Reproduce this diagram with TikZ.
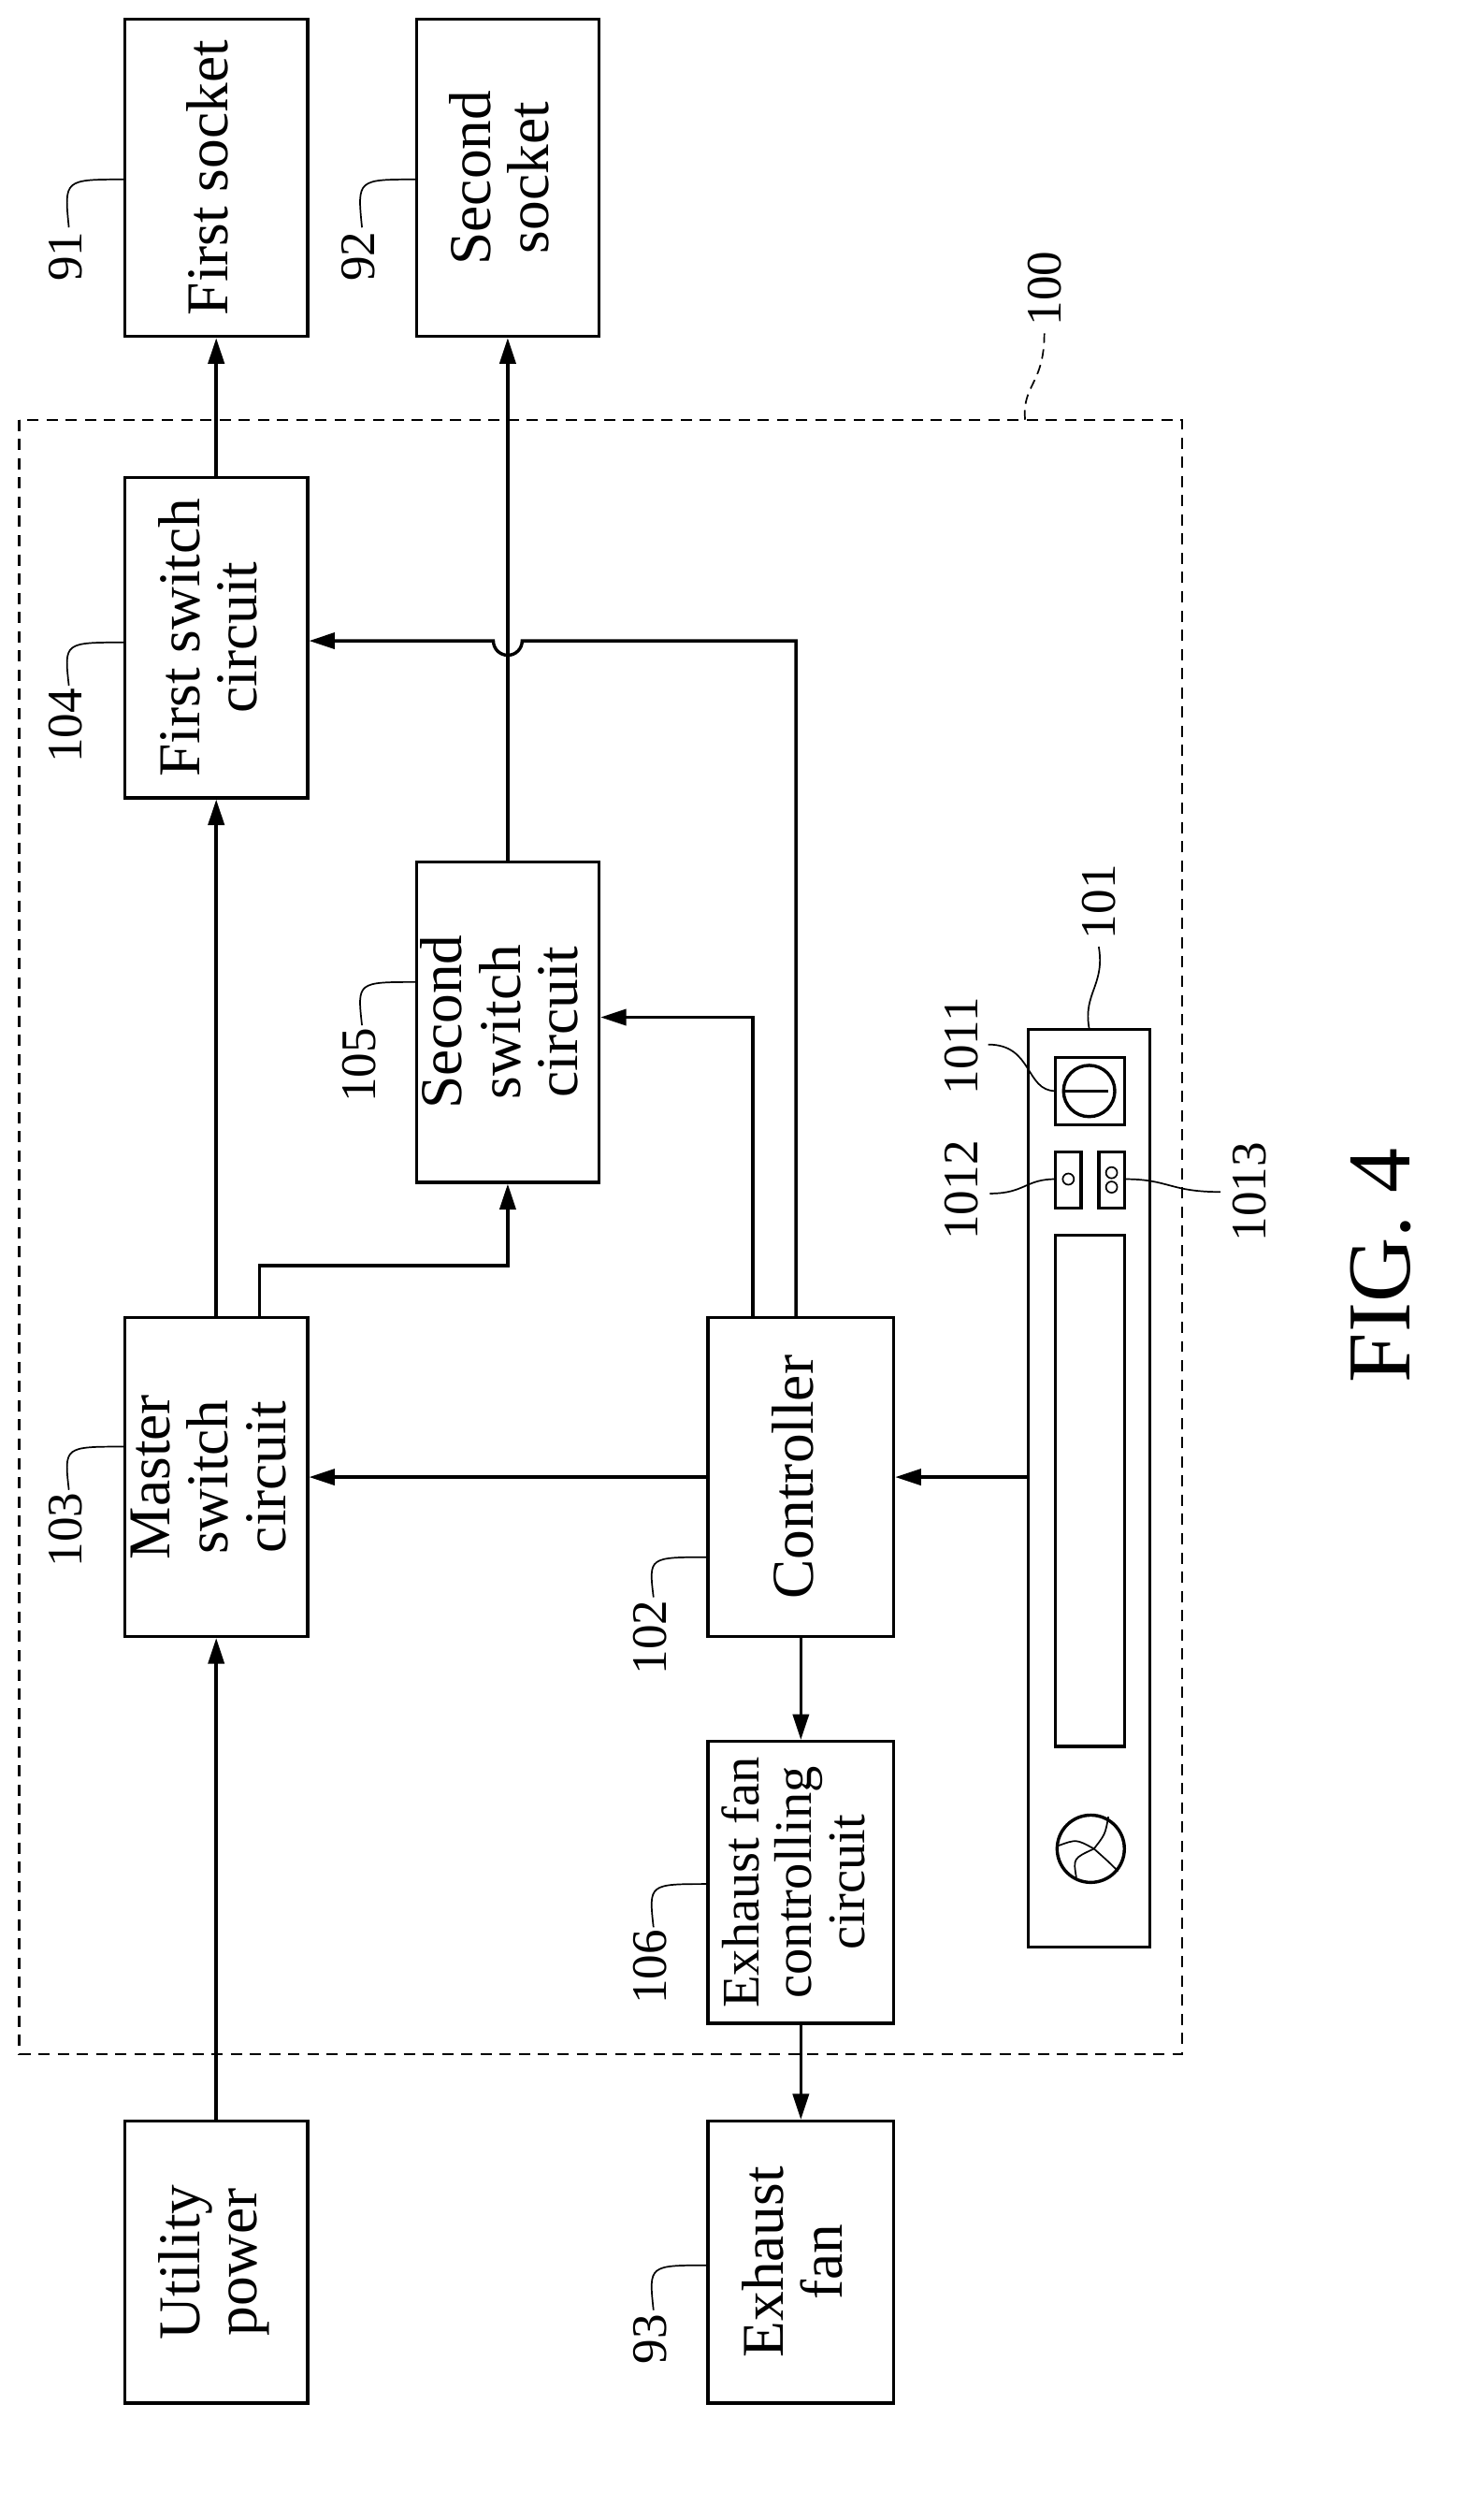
\documentclass[tikz,border=0pt]{standalone}
\usepackage{fontspec}
\setmainfont{Liberation Serif}
\usetikzlibrary{arrows.meta}
\tikzset{
  box/.style={draw, line width=2pt, inner sep=0pt, font=\fontsize{37}{36}\selectfont},
  link/.style={line width=2pt, -{Triangle[length=16pt,width=10pt]}},
  line/.style={line width=2pt},
  lead/.style={line width=1pt},
  num/.style={font=\fontsize{31}{31}\selectfont, rotate=90}
}
\newcommand{\rt}[1]{\rotatebox{90}{\begin{tabular}{@{}c@{}}#1\end{tabular}}}
\begin{document}
\begin{tikzpicture}[x=1pt, y=-1pt]
    \useasboundingbox (0,0) rectangle (910,1573);

    % Boxes
    \node[box, minimum width=114pt, minimum height=198pt] (s1) at (135,111) {\rt{First socket}};
    \node[box, minimum width=114pt, minimum height=198pt] (s2) at (317,111) {\rt{Second\\socket}};
    \node[box, minimum width=114pt, minimum height=200pt] (sw1) at (135,398) {\rt{First switch\\circuit}};
    \node[box, minimum width=114pt, minimum height=200pt] (sw2) at (317,638) {\rt{Second\\switch\\circuit}};
    \node[box, minimum width=114pt, minimum height=199pt] (msw) at (135,922) {\rt{Master\\switch\\circuit}};
    \node[box, minimum width=116pt, minimum height=199pt] (ctl) at (500,922) {\rt{Controller}};
    \node[box, minimum width=116pt, minimum height=176pt, font=\fontsize{33}{33}\selectfont] (efc) at (500,1175) {\rt{Exhaust fan\\controlling\\circuit}};
    \node[box, minimum width=114pt, minimum height=176pt] (up) at (135,1412) {\rt{Utility\\power}};
    \node[box, minimum width=116pt, minimum height=176pt] (fan) at (500,1412) {\rt{Exhaust\\fan}};

    % Panel 101
    \node[box, minimum width=76pt, minimum height=573pt] (pnl) at (680,929) {};
    \draw[line] (659,660) rectangle (702,702);
    \draw[line] (680,681) circle (16);
    \draw[lead, line width=1.5pt] (665,681) -- (692,681);
    \draw[line] (659,719) rectangle (675,754);
    \draw[lead] (667,736) circle (3.5);
    \draw[line] (686,719) rectangle (702,754);
    \draw[lead] (694,732) circle (3.5) (694,741) circle (3.5);
    \draw[line] (659,771) rectangle (702,1090);
    \draw[line] (681,1154) circle (21);
    \draw[lead] (661,1152) .. controls (672,1148) .. (683,1154) .. controls (692,1162) .. (698,1168);
    \draw[lead] (683,1154) .. controls (690,1145) .. (692,1134);
    \draw[lead] (672,1172) .. controls (670,1160) .. (683,1154);

    % Dashed frame
    \draw[lead, line width=1.3pt, dash pattern=on 7pt off 5pt] (12,262) rectangle (738,1282);

    % Connectors
    \draw[link] (up) -- (msw);
    \draw[link] (msw) -- (sw1);
    \draw[link] (sw1) -- (s1);
    \draw[link] (162,823) -- (162,790) -| (sw2.south);
    \draw[link] (sw2.north) -- (s2.south);
    \draw[link] (497,823) -- (497,400) -- (326,400) arc (0:180:9) -- (sw1.east |- 0,400);
    \draw[link] (470,823) |- (sw2.east |- 0,635);
    \draw[link] (ctl.west) -- (msw.east);
    \draw[link] (pnl.west |- ctl.east) -- (ctl.east);
    \draw[link] (ctl.south) -- (efc.north);
    \draw[link] (efc.south) -- (fan.north);

    % Reference numbers
    \node[num] (n91) at (41,160) {91};
    \draw[lead] (43,142) .. controls (40,112) .. (78,112);
    \node[num] (n92) at (224,160) {92};
    \draw[lead] (226,142) .. controls (223,112) .. (260,112);
    \node[num] (n104) at (41,453) {104};
    \draw[lead] (43,428) .. controls (40,401) .. (78,401);
    \node[num] (n105) at (224,665) {105};
    \draw[lead] (226,640) .. controls (223,613) .. (260,613);
    \node[num] (n103) at (41,955) {103};
    \draw[lead] (43,930) .. controls (40,903) .. (78,903);
    \node[num] (n102) at (406,1022) {102};
    \draw[lead] (408,997) .. controls (405,972) .. (442,972);
    \node[num] (n106) at (406,1228) {106};
    \draw[lead] (408,1203) .. controls (405,1176) .. (442,1176);
    \node[num] (n93) at (406,1460) {93};
    \draw[lead] (408,1442) .. controls (405,1414) .. (442,1414);
    \node[num] (n100) at (652,180) {100};
    \draw[lead, dash pattern=on 6pt off 4pt] (640,262) .. controls (638,240) and (652,240) .. (652,208);
    \node[num] (n101) at (686,563) {101};
    \draw[lead] (680,642) .. controls (676,620) and (690,615) .. (686,591);
    \node[num] (n1011) at (600,653) {1011};
    \draw[lead] (659,681) .. controls (640,681) and (645,652) .. (617,652);
    \node[num] (n1012) at (600,743) {1012};
    \draw[lead] (659,736) .. controls (640,736) and (640,745) .. (618,745);
    \node[num] (n1013) at (780,744) {1013};
    \draw[lead] (702,736) .. controls (730,736) and (730,744) .. (762,744);

    \node[num, font=\fontsize{56}{56}\selectfont] (fig) at (862,790) {FIG. 4};
\end{tikzpicture}
\end{document}
